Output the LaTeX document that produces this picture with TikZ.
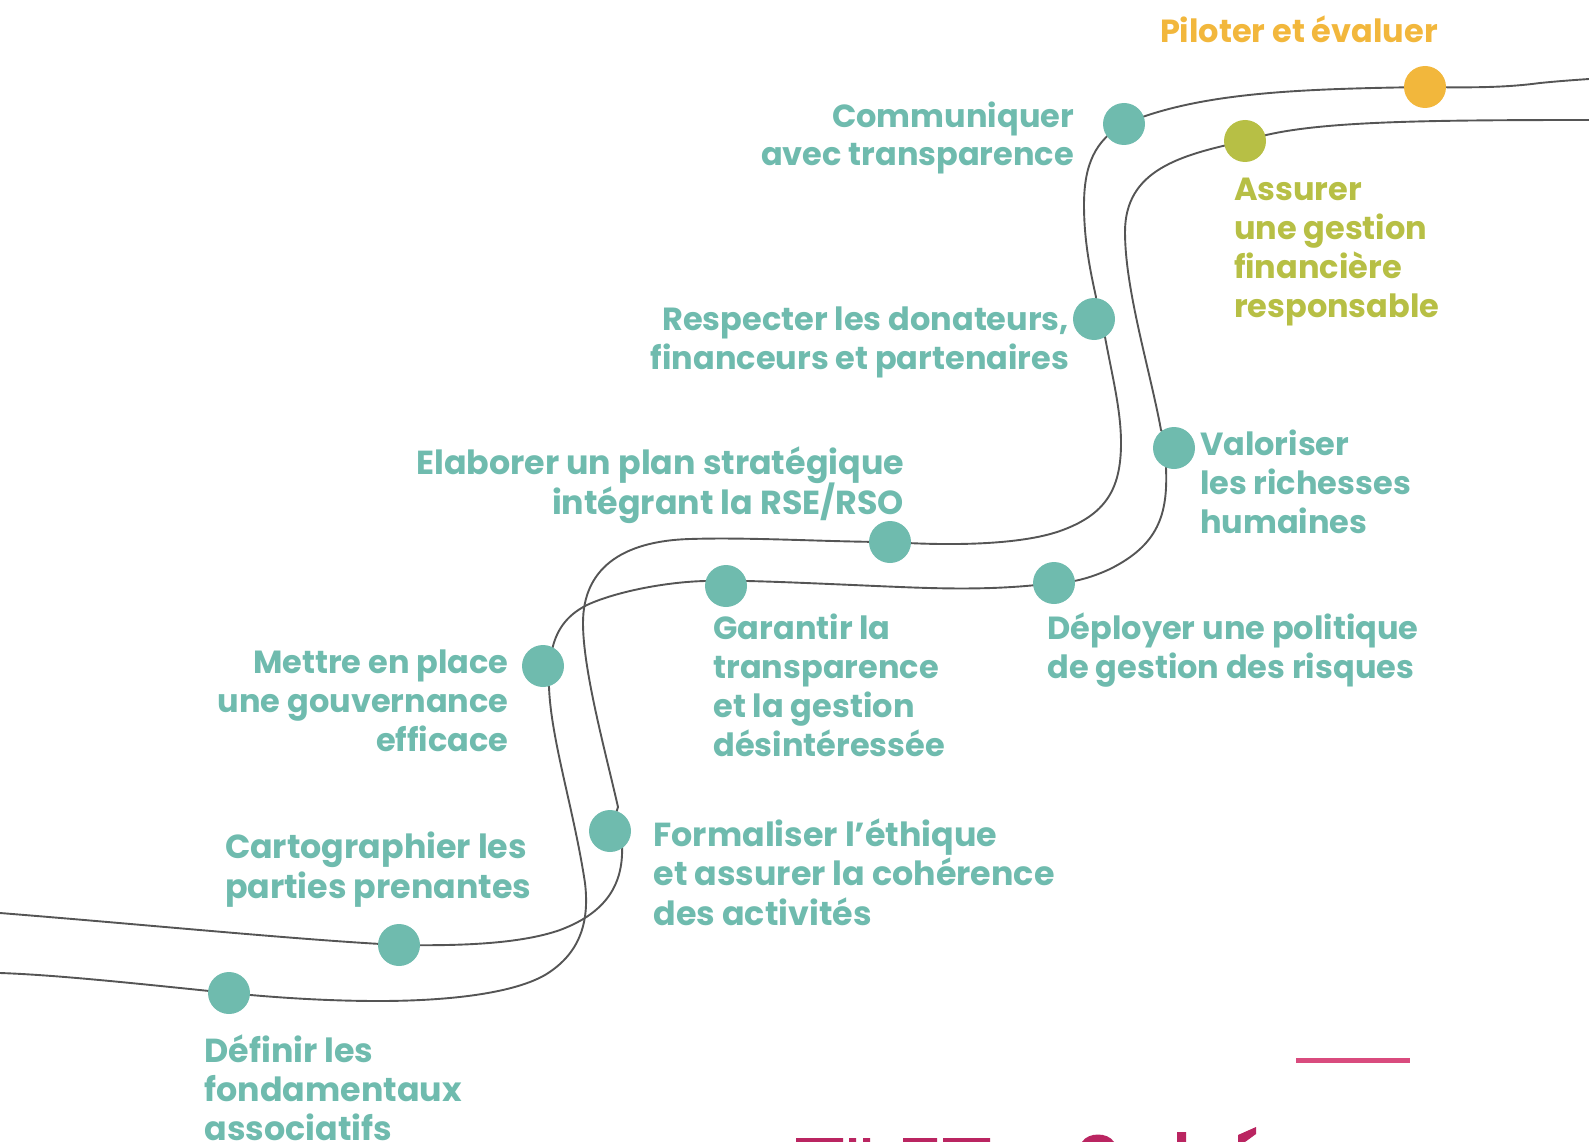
\documentclass[tikz,border=0pt]{standalone}
\usepackage{fontspec}
\setmainfont{Poppins}
\usetikzlibrary{backgrounds}
\definecolor{teal1}{HTML}{6FBBAE}
\definecolor{yel1}{HTML}{F2B73C}
\definecolor{oli1}{HTML}{B7BF45}
\definecolor{rose1}{HTML}{D94B7E}
\definecolor{dark1}{HTML}{BA2561}
\definecolor{line1}{HTML}{555555}
\newcommand\looselines{\lineskiplimit=-100pt\relax}
\tikzset{
 stopdot/.style={circle,fill=#1,draw=none,minimum size=42pt,inner sep=0pt},
 route/.style={draw=line1,line width=1.9pt,line cap=round,line join=round},
 lab/.style={inner sep=0pt,outer sep=0pt,font=\fontsize{32}{38.7}\selectfont\bfseries\looselines,text=teal1},
 big/.style={font=\fontsize{33.3}{39.5}\selectfont\bfseries\looselines},
 labl/.style={lab,align=left,anchor=base west},
 labr/.style={lab,align=right,anchor=base east},
}
\begin{document}
\begin{tikzpicture}[x=1pt,y=-1pt]
\useasboundingbox (0,0) rectangle (1589,1142);
\clip (0,0) rectangle (1589,1142);
\node[stopdot=yel1] (piloter) at (1425,87) {};
\node[stopdot=oli1] (assurer) at (1245,141) {};
\node[stopdot=teal1] (commun) at (1124,124) {};
\node[stopdot=teal1] (respect) at (1094,319) {};
\node[stopdot=teal1] (valor) at (1174,448) {};
\node[stopdot=teal1] (deploy) at (1054,583) {};
\node[stopdot=teal1] (elab) at (890,542) {};
\node[stopdot=teal1] (garant) at (726,586) {};
\node[stopdot=teal1] (mettre) at (543,666) {};
\node[stopdot=teal1] (formal) at (610,831) {};
\node[stopdot=teal1] (carto) at (399,945) {};
\node[stopdot=teal1] (defin) at (229,993) {};
\coordinate (endA) at (1589,79);
\coordinate (endB) at (1589,120);
\coordinate (startA) at (0,913);
\coordinate (startB) at (0,973);
\begin{scope}[on background layer]
\draw[route] (piloter.center) .. controls (1480,88) and (1510,87) .. (1540,83) .. controls (1560,81) and (1575,80) .. (endA);
\draw[route] (commun.center) .. controls (1200,92) and (1300,89) .. (piloter.center);
\draw[route] (commun.center) .. controls (1095,140) and (1084,165) .. (1084,205) .. controls (1084,240) and (1090,270) .. (1096,297) -- (respect.center);
\draw[route] (respect.center) -- (1105,337) .. controls (1112,375) and (1121,410) .. (1121,443) .. controls (1121,490) and (1105,515) .. (1060,531) .. controls (1020,545) and (950,546) .. (elab.center);
\draw[route] (elab.center) .. controls (830,542) and (750,537) .. (690,539) .. controls (620,541) and (583,570) .. (583,623) .. controls (583,670) and (605,750) .. (618,807) -- (formal.center);
\draw[route] (formal.center) -- (622,845) .. controls (624,890) and (600,915) .. (560,930) .. controls (520,944) and (460,946) .. (carto.center);
\draw[route] (carto.center) .. controls (300,940) and (150,925) .. (startA);
\draw[route] (assurer.center) .. controls (1300,122) and (1400,120) .. (endB);
\draw[route] (assurer.center) .. controls (1180,155) and (1125,170) .. (1125,232) .. controls (1125,290) and (1150,370) .. (1161,430) -- (valor.center);
\draw[route] (valor.center) -- (1166,468) .. controls (1168,515) and (1158,545) .. (1110,569) .. controls (1095,576) and (1075,583) .. (deploy.center);
\draw[route] (deploy.center) .. controls (1000,590) and (950,589) .. (900,587) .. controls (850,585) and (790,582) .. (747,581) -- (garant.center);
\draw[route] (garant.center) -- (705,581) .. controls (665,582) and (615,592) .. (587,605) .. controls (565,616) and (556,632) .. (552,650) -- (mettre.center);
\draw[route] (mettre.center) -- (549,687) .. controls (551,740) and (574,810) .. (585,883) .. controls (590,925) and (578,955) .. (545,975) .. controls (510,995) and (440,1001) .. (379,1001) .. controls (330,1001) and (280,998) .. (defin.center);
\draw[route] (defin.center) .. controls (150,985) and (60,975) .. (startB);
\end{scope}
\node[lab,anchor=base west,text=yel1] (t1) at (1160,43) {Piloter et évaluer};
\node[labl,text=oli1] (t2) at (1234,317) {Assurer\\une gestion\\financière\\responsable};
\node[labr] (t3) at (1074,166) {Communiquer\\avec transparence};
\node[labr] (t4) at (1069,369) {Respecter les donateurs,\\financeurs et partenaires};
\node[labl] (t5) at (1200,533) {Valoriser\\les richesses\\humaines};
\node[labr,big] (t6) at (904,514) {Elaborer un plan stratégique\\intégrant la RSE/RSO};
\node[labl] (t7) at (1047.5,678) {Déployer une politique\\de gestion des risques};
\node[labl] (t8) at (713.5,756) {Garantir la\\transparence\\et la gestion\\désintéressée};
\node[labr] (t9) at (508.5,751) {Mettre en place\\une gouvernance\\efficace};
\node[labl,big] (t10) at (653.5,925) {Formaliser l’éthique\\et assurer la cohérence\\des activités};
\node[labl,big] (t11) at (225,898) {Cartographier les\\parties prenantes};
\node[labl,big,font=\fontsize{33.3}{39}\selectfont\bfseries\looselines] (t12) at (204.5,1140.7) {Définir les\\fondamentaux\\associatifs};
\fill[rose1] (1296,1058) rectangle (1410,1063);
\fill[dark1] (796,1138) rectangle (843,1142) (849,1138) rectangle (856,1142) (863,1138) rectangle (870,1142) (903,1138) rectangle (937,1142) (943,1138) rectangle (990,1142) (1177,1132) rectangle (1186,1142);
\fill[dark1] (1082,1142) .. controls (1088,1132) and (1108,1132) .. (1114,1142) -- cycle;
\fill[dark1] (1238,1142) -- (1238,1135) -- (1256,1127) -- (1256,1134) -- (1245,1142) -- cycle;
\end{tikzpicture}
\end{document}
